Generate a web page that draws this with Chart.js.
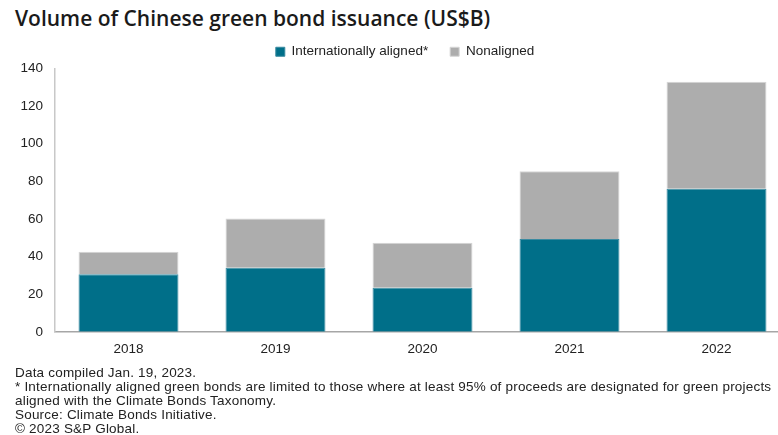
<!DOCTYPE html>
<html>
<head>
<meta charset="utf-8">
<script src="https://cdn.jsdelivr.net/npm/chart.js@4"></script>
<style>
  html, body { margin: 0; padding: 0; background: #fff; overflow: hidden; width: 778px; height: 435px; }
  #title { position: absolute; left: 15px; top: 4px; font: 600 21px "Open Sans", sans-serif; color: #1a1a1a; white-space: nowrap; }
  #wrap { position: absolute; left: 0; top: 23px; width: 790px; height: 344px; }
  #notes { position: absolute; left: 15px; top: 366px; font: 13.5px "Liberation Sans", Arial, sans-serif; letter-spacing: 0.2px; color: #222; line-height: 13.9px; white-space: nowrap; }
</style>
</head>
<body>
<div id="title">Volume of Chinese green bond issuance (US$B)</div>
<div id="wrap"><canvas id="myChart"></canvas></div>
<div id="notes">
  Data compiled Jan. 19, 2023.<br>
  * Internationally aligned green bonds are limited to those where at least 95% of proceeds are designated for green projects<br>
  aligned with the Climate Bonds Taxonomy.<br>
  Source: Climate Bonds Initiative.<br>
  &copy; 2023 S&amp;P Global.
</div>
<script>
//*** So lieu
const years = ["2018", "2019", "2020", "2021", "2022"];
const aligned = [30.6, 34.1, 23.4, 49.4, 76.0];
const nonaligned = [12.0, 26.2, 23.9, 36.0, 57.0];
const yTicks = [0, 20, 40, 60, 80, 100, 120, 140];

const config = {
  type: "bar",
  data: {
    labels: years,
    datasets: [
      {
        label: "Internationally aligned*",
        data: aligned,
        backgroundColor: "#006f89",
        borderColor: "#3a8aa0",
        borderWidth: 1,
        borderSkipped: "bottom",
      },
      {
        label: "Nonaligned",
        data: nonaligned,
        backgroundColor: "#adadad",
        borderColor: "#d6d6d6",
        borderWidth: 1,
        borderSkipped: "bottom",
      },
    ],
  },
  options: {
    responsive: true,
    maintainAspectRatio: false,
    animation: false,
    layout: { padding: { left: 20, right: 0, top: 0, bottom: 0 } },
    datasets: { bar: { categoryPercentage: 0.68, barPercentage: 1 } },
    plugins: {
      tooltip: { enabled: false },
      legend: {
        position: "top",
        labels: {
          boxWidth: 9,
          boxHeight: 9,
          padding: 22,
          color: "#222",
          font: { family: "'Liberation Sans', Arial, sans-serif", size: 13.5 },
        },
      },
    },
    scales: {
      x: {
        stacked: true,
        grid: { display: false, drawTicks: false },
        border: { color: "#a6a6a6", width: 1.5 },
        ticks: {
          color: "#222",
          padding: 9.5,
          font: { family: "'Liberation Sans', Arial, sans-serif", size: 13.5 },
        },
      },
      y: {
        stacked: true,
        min: yTicks[0],
        max: yTicks[yTicks.length - 1],
        afterFit: (s) => { s.width = 35; },
        afterBuildTicks: (s) => { s.ticks = yTicks.map((v) => ({ value: v })); },
        grid: { display: false, drawTicks: false },
        border: { color: "#c8c8c8", width: 1.5 },
        ticks: {
          color: "#222",
          padding: 12,
          font: { family: "'Liberation Sans', Arial, sans-serif", size: 13.5 },
        },
      },
    },
  },
};

var myChart = new Chart(document.getElementById("myChart"), config);
</script>
</body>
</html>
